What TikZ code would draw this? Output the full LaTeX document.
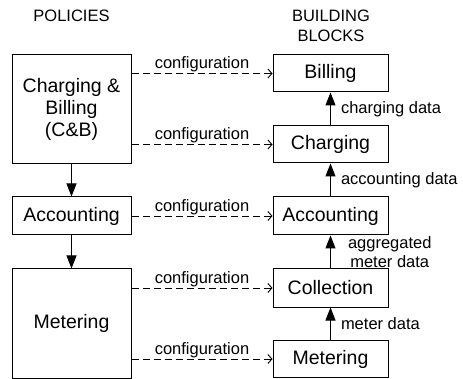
\documentclass[tikz,border=0pt]{standalone}
\usepackage{fontspec}
\setmainfont{Liberation Sans}
\usetikzlibrary{arrows.meta}
\tikzset{
  box/.style={draw, line width=1pt, inner sep=0pt, align=center, font=\fontsize{19.5}{22}\selectfont},
  lbox/.style={box, minimum width=119pt},
  rbox/.style={box, minimum width=115pt, minimum height=37pt},
  lbl/.style={font=\fontsize{16.5}{19}\selectfont, inner sep=0pt},
  cfg/.style={draw, line width=0.9pt, dash pattern=on 7pt off 4pt, -{Straight Barb[length=4pt,width=9pt,line width=0.9pt]}},
  flow/.style={draw, line width=1pt, -{Triangle[length=13pt,width=10pt]}},
}
\begin{document}
\begin{tikzpicture}[x=1pt,y=-1pt]
\useasboundingbox (0,0) rectangle (463,379);
% titles
\node[lbl] (tpol) at (71.5,15.5) {POLICIES};
\node[lbl, align=center, font=\fontsize{16.5}{20}\selectfont] (tbb) at (331,25.5) {BUILDING\\BLOCKS};
% left boxes
\node[lbox, minimum height=109pt] (cb) at (71.5,109.5) {Charging \&\\Billing\\(C\&B)};
\node[lbox, minimum height=38pt] (lacc) at (71.5,216) {Accounting};
\node[lbox, minimum height=109pt] (lmet) at (71.5,323.5) {Metering};
% right boxes
\node[rbox] (bill) at (330.5,73.5) {Billing};
\node[rbox] (chg) at (330.5,144.5) {Charging};
\node[rbox, minimum height=38pt] (racc) at (330.5,216) {Accounting};
\node[rbox, minimum height=38pt] (coll) at (330.5,288) {Collection};
\node[rbox] (rmet) at (330.5,359) {Metering};
% left flow
\draw[flow] (cb) -- (lacc);
\draw[flow] (lacc) -- (lmet);
% right flow
\draw[flow] (chg) -- node[lbl, anchor=west, xshift=10pt] (l1) {charging data} (bill);
\draw[flow] (racc) -- node[lbl, anchor=west, xshift=10pt] (l2) {accounting data} (chg);
\draw[flow] (coll) -- node[lbl, anchor=west, xshift=17pt, align=center, font=\fontsize{16.5}{19}\selectfont] (l3) {aggregated\\meter data} (racc);
\draw[flow] (rmet) -- node[lbl, anchor=west, xshift=10pt] (l4) {meter data} (coll);
% configuration arrows
\foreach \s/\t/\n in {cb/bill/c1, cb/chg/c2, lacc/racc/c3, lmet/coll/c4, lmet/rmet/c5}{
  \draw[cfg] (\s.east |- \t.west) -- node[lbl, anchor=south, yshift=1pt] (\n) {configuration} (\t.west);
}
\end{tikzpicture}
\end{document}
